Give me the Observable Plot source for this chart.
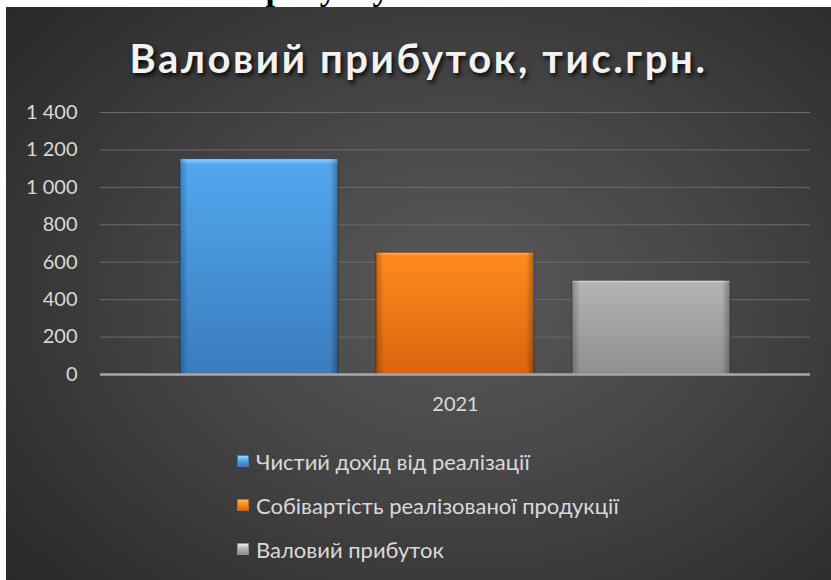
<!DOCTYPE html>
<html>
<head>
<meta charset="utf-8">
<script src="https://cdn.jsdelivr.net/npm/d3@7"></script>
<script src="https://cdn.jsdelivr.net/npm/@observablehq/plot@0.6"></script>
<style>
  html, body { margin: 0; padding: 0; background: #fff; width: 831px; height: 580px; overflow: hidden; }
  #cut { position: absolute; left: 0; top: 0; }
  #panel { position: absolute; left: 6px; top: 7px; width: 825px; height: 573px; overflow: hidden;
    background: radial-gradient(ellipse 75% 80% at 55% 50%, #595959 0%, #474747 40%, #2e2e2e 85%, #272727 100%); }
  #title { position: absolute; left: 0; width: 825px; top: 27px; text-align: center;
    font: bold 40px Lato, sans-serif; letter-spacing: 2.6px; color: #f2f2f2;
    text-shadow: 2px 3px 4px rgba(0,0,0,0.85); }
  #chart { position: absolute; left: -6px; top: 83px; }
  #legend { position: absolute; left: 231px; top: 432px; font: 22px Lato, sans-serif; color: #d9d9d9; }
  .item { height: 44px; display: flex; align-items: center; }
  .sw { width: 12px; height: 12px; margin-right: 7px; box-sizing: border-box; }
</style>
</head>
<body>
<svg id="cut" width="831" height="7"><text x="246" y="0" font-family="Liberation Serif, serif" font-weight="bold" font-size="34" fill="#000">прибутку</text></svg>
<div id="panel">
  <div id="title">Валовий прибуток, тис.грн.</div>
  <div id="chart"></div>
  <div id="legend"></div>
</div>
<script>
const year = "2021";
const series = ["Чистий дохід від реалізації", "Собівартість реалізованої продукції", "Валовий прибуток"];
const values = [1150, 650, 500];
const colorsTop = ["#52a6ee", "#ff8a1f", "#b3b3b3"];
const colorsBottom = ["#3a7cbd", "#d8640e", "#8f8f8f"];
const colorsLight = ["#9ad8ff", "#ffb766", "#ececec"];
const yTicks = [0, 200, 400, 600, 800, 1000, 1200, 1400];

const data = series.map((s, i) => ({year, series: s, value: values[i], grad: `url(#g${i})`}));

const fmt = d => d3.format(",")(d).replace(/,/g, "\u00a0");

const defs = () => {
  const ns = "http://www.w3.org/2000/svg";
  const d = document.createElementNS(ns, "defs");
  let html = "";
  series.forEach((s, i) => {
    html += `<linearGradient id="g${i}" x1="0" y1="0" x2="0" y2="1">
      <stop offset="0" stop-color="${colorsLight[i]}"/>
      <stop offset="0.025" stop-color="${colorsTop[i]}"/>
      <stop offset="1" stop-color="${colorsBottom[i]}"/>
    </linearGradient>`;
  });
  html += `<linearGradient id="edge" x1="0" y1="0" x2="1" y2="0">
      <stop offset="0" stop-color="#000" stop-opacity="0.25"/>
      <stop offset="0.05" stop-color="#000" stop-opacity="0"/>
      <stop offset="0.95" stop-color="#000" stop-opacity="0"/>
      <stop offset="1" stop-color="#000" stop-opacity="0.3"/>
    </linearGradient>`;
  d.innerHTML = html;
  return d;
};

const chart = Plot.plot({
  width: 831,
  height: 333,
  marginLeft: 100,
  marginRight: 21,
  marginTop: 22,
  marginBottom: 49,
  style: {background: "transparent", fontFamily: "Lato, sans-serif", fontSize: "20px", color: "#d9d9d9", overflow: "visible"},
  fx: {domain: [year], padding: 0, label: null, tickSize: 0, tickPadding: 22},
  x: {domain: series, paddingInner: 0.194, paddingOuter: 0.408, axis: null},
  y: {domain: [0, 1400], ticks: yTicks, tickFormat: fmt, label: null, tickSize: 0, tickPadding: 23},
  color: {type: "identity"},
  marks: [
    defs,
    Plot.gridY(yTicks.filter(t => t > 0), {stroke: "#6b6b6b", strokeOpacity: 1, strokeWidth: 1}),
    Plot.barY(data, {fx: "year", x: "series", y: "value", fill: "grad", stroke: "rgba(0,0,0,0.35)", strokeWidth: 1}),
    Plot.barY(data, {fx: "year", x: "series", y: "value", fill: "url(#edge)"}),
    Plot.ruleY([0], {stroke: "#a8a8a8", strokeWidth: 2.5})
  ]
});
document.getElementById("chart").appendChild(chart);

const legend = document.getElementById("legend");
series.forEach((s, i) => {
  const it = document.createElement("div");
  it.className = "item";
  it.innerHTML = `<div class="sw" style="background: linear-gradient(${colorsLight[i]}, ${colorsTop[i]} 45%, ${colorsBottom[i]}); border: 1px solid ${colorsBottom[i]}"></div><span>${s}</span>`;
  legend.appendChild(it);
});
</script>
</body>
</html>
